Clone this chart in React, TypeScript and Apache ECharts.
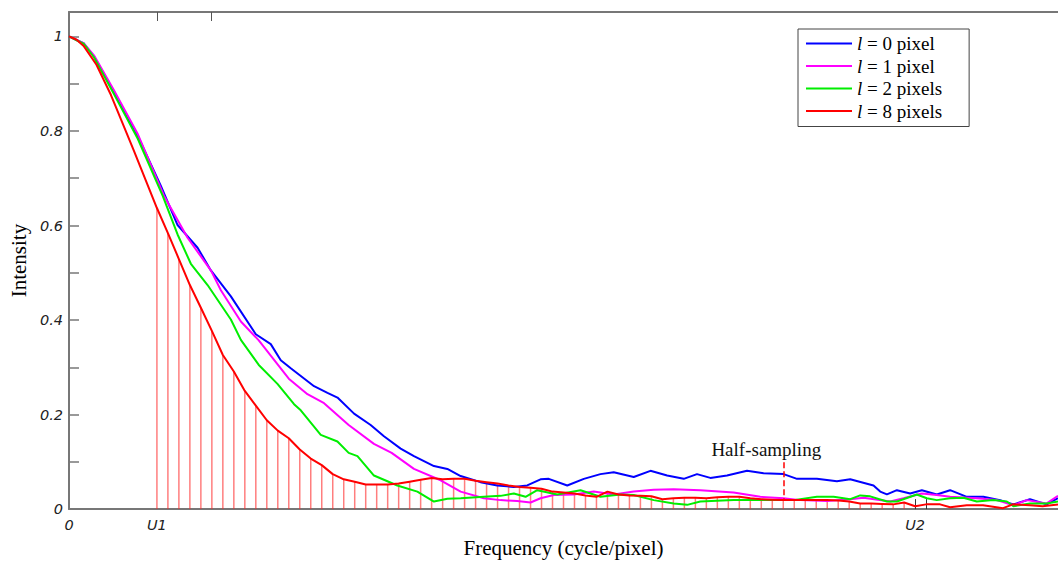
import React, { useEffect, useRef } from "react";
import * as echarts from "echarts";

// x in frequency bins (0 .. 90), y intensity
const blueData: [number, number][] = [
  [0, 1.0], [1.36, 0.985], [2.27, 0.958], [4.09, 0.882], [6.27, 0.789], [8.36, 0.684],
  [9.88, 0.601], [11.7, 0.553], [12.91, 0.505], [14.73, 0.45], [17.0, 0.37], [18.36, 0.349],
  [19.27, 0.315], [20.18, 0.298], [22.3, 0.26], [23.52, 0.246], [24.43, 0.236], [25.94, 0.202],
  [27.45, 0.178], [28.66, 0.154], [30.18, 0.128], [31.39, 0.112], [33.21, 0.091], [34.43, 0.085],
  [35.64, 0.07], [37.45, 0.057], [38.97, 0.05], [40.48, 0.047], [41.7, 0.05], [42.91, 0.063],
  [43.66, 0.064], [45.34, 0.05], [46.85, 0.064], [48.36, 0.074], [49.57, 0.078], [51.39, 0.068],
  [52.91, 0.081], [54.43, 0.071], [55.94, 0.064], [57.15, 0.074], [58.36, 0.066], [59.88, 0.071],
  [61.7, 0.081], [63.21, 0.076], [65.03, 0.074], [66.25, 0.064], [68.06, 0.064], [69.88, 0.059],
  [71.09, 0.063], [73.21, 0.05], [73.82, 0.037], [74.43, 0.031], [75.34, 0.04], [76.55, 0.033],
  [77.61, 0.04], [78.97, 0.031], [80.18, 0.04], [81.7, 0.026], [83.21, 0.026], [84.73, 0.019],
  [85.94, 0.01], [87.45, 0.021], [88.97, 0.01], [90, 0.023],
];

const magentaData: [number, number][] = [
  [0, 1.0], [1.36, 0.985], [2.27, 0.96], [4.09, 0.886], [6.27, 0.793], [8.64, 0.663],
  [10.79, 0.574], [12.91, 0.505], [13.82, 0.463], [15.64, 0.397], [17.27, 0.357], [20.0, 0.276],
  [21.7, 0.243], [23.21, 0.224], [25.45, 0.178], [27.75, 0.138], [29.36, 0.119], [31.39, 0.085],
  [33.82, 0.061], [35.64, 0.037], [37.75, 0.023], [39.27, 0.019], [40.79, 0.017], [42.0, 0.014],
  [42.91, 0.023], [44.12, 0.03], [45.94, 0.031], [47.75, 0.037], [49.57, 0.031], [51.39, 0.037],
  [53.21, 0.041], [55.03, 0.042], [57.45, 0.04], [60.48, 0.035], [62.91, 0.026], [65.03, 0.023],
  [66.55, 0.019], [68.97, 0.017], [71.09, 0.021], [72.3, 0.024], [74.73, 0.016], [75.94, 0.023],
  [77.61, 0.033], [78.97, 0.03], [80.18, 0.026], [82.61, 0.023], [84.43, 0.019], [85.94, 0.008],
  [87.15, 0.019], [88.97, 0.012], [90, 0.028],
];

const greenData: [number, number][] = [
  [0, 1.0], [1.36, 0.984], [2.27, 0.956], [4.09, 0.878], [6.27, 0.783], [8.52, 0.663],
  [9.88, 0.581], [11.09, 0.519], [12.61, 0.474], [14.73, 0.401], [15.64, 0.358], [17.27, 0.305],
  [18.97, 0.265], [20.48, 0.222], [21.09, 0.209], [22.91, 0.157], [24.43, 0.143], [25.45, 0.119],
  [26.25, 0.112], [27.75, 0.071], [29.88, 0.05], [31.7, 0.037], [33.21, 0.016], [34.43, 0.022],
  [35.64, 0.023], [37.75, 0.026], [39.27, 0.028], [40.48, 0.033], [41.55, 0.026], [42.61, 0.04],
  [44.43, 0.031], [46.55, 0.04], [48.36, 0.026], [50.18, 0.031], [51.39, 0.03], [53.21, 0.019],
  [55.03, 0.012], [56.25, 0.009], [57.45, 0.016], [60.48, 0.019], [63.52, 0.019], [65.94, 0.019],
  [68.06, 0.026], [69.58, 0.026], [71.09, 0.021], [72.0, 0.029], [72.91, 0.027], [74.43, 0.016],
  [75.34, 0.016], [77.15, 0.031], [78.06, 0.023], [78.97, 0.019], [80.18, 0.023], [81.39, 0.024],
  [82.61, 0.016], [84.12, 0.019], [85.34, 0.016], [85.94, 0.006], [87.45, 0.012], [88.97, 0.012],
  [90, 0.016],
];

const redData: [number, number][] = [
  [0, 1.0], [0.7, 0.993], [1.36, 0.979], [2.5, 0.94], [3.82, 0.876], [5.91, 0.758],
  [8, 0.637], [9, 0.584], [10, 0.529], [11, 0.474], [12, 0.426], [13, 0.377], [14, 0.326],
  [15, 0.291], [16, 0.25], [17, 0.219], [18, 0.188], [19, 0.166], [20, 0.15], [21, 0.126],
  [22, 0.107], [23, 0.093], [24, 0.074], [25, 0.063], [26, 0.058], [27, 0.052], [28, 0.052],
  [29, 0.052], [30, 0.054], [31, 0.058], [32, 0.062], [33, 0.066], [34, 0.063], [35, 0.064],
  [36, 0.064], [37, 0.06], [38, 0.057], [39, 0.054], [40, 0.05], [41, 0.047], [42, 0.045],
  [43, 0.043], [44, 0.037], [45, 0.035], [46, 0.033], [47, 0.029], [48, 0.026], [49, 0.037],
  [50, 0.031], [51, 0.029], [52, 0.028], [53, 0.027], [54, 0.021], [55, 0.023], [56, 0.024],
  [57, 0.024], [58, 0.023], [59, 0.025], [60, 0.026], [61, 0.026], [62, 0.023], [63, 0.021],
  [64, 0.02], [65, 0.019], [66, 0.019], [67, 0.019], [68, 0.019], [69, 0.019], [70, 0.018],
  [71, 0.016], [72, 0.012], [73, 0.012], [74, 0.011], [75, 0.01], [76, 0.014], [77, 0.006],
  [78, 0.01], [79.27, 0.01], [80.18, 0.004], [81.7, 0.008], [83.18, 0.008], [85.0, 0.002],
  [85.9, 0.01], [87.45, 0.008], [88.6, 0.006], [90, 0.01],
];

const seriesNames = ["l = 0 pixel", "l = 1 pixel", "l = 2 pixels", "l = 8 pixels"];
const seriesColors = ["#0000ff", "#ff00ff", "#00ee00", "#ff0000"];

const U1 = 8;
const U2 = 77;
const HALF_SAMPLING = 65;
const X_MAX = 90;
const Y_MAX = 1.0517;
const xLabelPos = [0, U1, U2];
const xLabelText = ["0", "U1", "U2"];
const halfSamplingTop = 0.099;
const halfSamplingBottom = 0.019;

const stemData = redData.filter(
  (d) => Number.isInteger(d[0]) && d[0] >= U1 && d[0] < U2
);

export default function App() {
  const ref = useRef<HTMLDivElement>(null);
  useEffect(() => {
    if (!ref.current) return;
    const chart = echarts.init(ref.current, null, { renderer: "svg" });
    const axisGray = "#777777";
    const tickFont = {
      fontFamily: "DejaVu Sans",
      fontStyle: "italic" as const,
      fontSize: 14.5,
      color: "#222",
    };
    const lineSeries = [blueData, magentaData, greenData, redData].map((d, i) => ({
      name: seriesNames[i],
      type: "line",
      data: d,
      symbol: "none",
      showSymbol: false,
      lineStyle: { color: seriesColors[i], width: 2 },
      itemStyle: { color: seriesColors[i] },
      z: 3 + i,
    }));
    const legendText = { fontFamily: "Liberation Serif", fontSize: 19, color: "#000", lineHeight: 21 };
    chart.setOption({
      animation: false,
      grid: { left: 68, right: 0, top: 12, bottom: 42 },
      legend: {
        data: seriesNames,
        orient: "vertical",
        left: 798,
        top: 29,
        icon: "rect",
        itemWidth: 46,
        itemHeight: 2,
        itemGap: 1.5,
        padding: [4, 27, 5, 8],
        borderColor: "#444",
        borderWidth: 1,
        backgroundColor: "#fff",
        formatter: (name: string) => `{i|${name.slice(0, 1)}}{n|${name.slice(1)}}`,
        textStyle: {
          ...legendText,
          rich: {
            i: { ...legendText, fontStyle: "italic" },
            n: { ...legendText },
          },
        },
      },
      xAxis: [
        {
          type: "value",
          min: 0,
          max: X_MAX,
          position: "bottom",
          name: "Frequency (cycle/pixel)",
          nameLocation: "middle",
          nameGap: 22,
          nameTextStyle: { fontFamily: "Liberation Serif", fontSize: 21, color: "#000", verticalAlign: "top" },
          axisLine: { show: true, onZero: false, lineStyle: { color: axisGray, width: 2 } },
          axisTick: {
            show: true,
            inside: true,
            length: 10,
            customValues: [U2, U2 + 1],
            lineStyle: { color: "#333", width: 1 },
          },
          axisLabel: {
            ...tickFont,
            margin: 8,
            customValues: xLabelPos,
            formatter: (v: number) => {
              const i = xLabelPos.findIndex((p) => Math.abs(p - v) < 1e-6);
              return i >= 0 ? xLabelText[i] : "";
            },
          },
          splitLine: { show: false },
        },
        {
          type: "value",
          min: 0,
          max: X_MAX,
          position: "top",
          axisLine: { show: true, onZero: false, lineStyle: { color: axisGray, width: 2 } },
          axisTick: {
            show: true,
            inside: true,
            length: 9,
            customValues: [U1, 12.9],
            lineStyle: { color: "#555", width: 1 },
          },
          axisLabel: { show: false },
          splitLine: { show: false },
        },
      ],
      yAxis: {
        type: "value",
        min: 0,
        max: Y_MAX,
        interval: 0.1,
        name: "Intensity",
        nameLocation: "middle",
        nameGap: 40,
        nameTextStyle: { fontFamily: "Liberation Serif", fontSize: 21, color: "#000" },
        axisLine: { show: true, onZero: false, lineStyle: { color: axisGray, width: 2 } },
        axisTick: { show: true, inside: true, length: 10, lineStyle: { color: axisGray, width: 1.5 } },
        axisLabel: {
          ...tickFont,
          margin: 6,
          showMaxLabel: false,
          formatter: (v: number) => {
            const r = Math.round(v * 10);
            if (Math.abs(v * 10 - r) > 1e-6 || r % 2 !== 0) return "";
            if (r === 0) return "0";
            if (r === 10) return "1";
            return (r / 10).toFixed(1);
          },
        },
        splitLine: { show: false },
      },
      series: [
        {
          name: "stems",
          type: "bar",
          data: stemData,
          barWidth: 1.5,
          itemStyle: { color: "rgba(255,40,40,0.6)" },
          z: 2,
        },
        ...lineSeries,
        {
          name: "half",
          type: "line",
          data: [],
          markLine: {
            silent: true,
            symbol: "none",
            label: { show: false },
            lineStyle: { color: "#ff0000", type: [6, 3], width: 1.5 },
            data: [[{ coord: [HALF_SAMPLING, halfSamplingTop] }, { coord: [HALF_SAMPLING, halfSamplingBottom] }]],
          },
        },
      ],
    });
    const p = chart.convertToPixel({ xAxisIndex: 0, yAxisIndex: 0 }, [HALF_SAMPLING, halfSamplingTop]) as number[];
    chart.setOption({
      graphic: [
        {
          type: "text",
          x: p[0] - 17,
          y: p[1] - 3,
          style: {
            text: "Half-sampling",
            font: '19px "Liberation Serif"',
            fill: "#111",
            textAlign: "center",
            textVerticalAlign: "bottom",
          },
        },
      ],
    });
    return () => chart.dispose();
  }, []);
  return (
    <div
      ref={ref}
      style={{ position: "absolute", left: 0, top: 0, width: 1058, height: 563 }}
    />
  );
}
